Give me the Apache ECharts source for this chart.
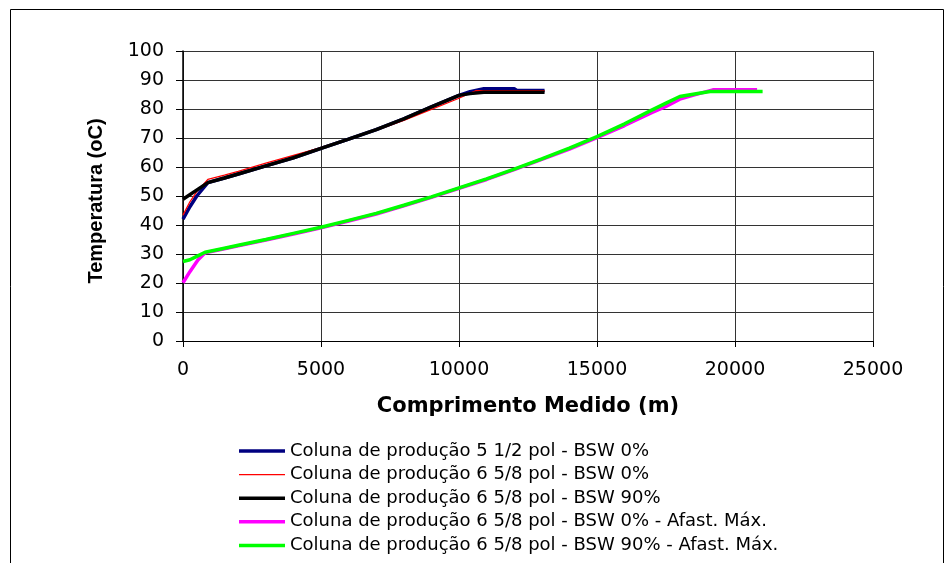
<!DOCTYPE html>
<html><head><meta charset="utf-8">
<script src="https://cdn.jsdelivr.net/npm/echarts@6/dist/echarts.min.js"></script>
<style>html,body{margin:0;padding:0;background:#fff}#c{width:949px;height:563px}</style>
</head><body><div id="c"></div>
<script>
// Series names (legend)
const seriesNames = [
  'Coluna de produção 5 1/2 pol - BSW 0%',
  'Coluna de produção 6 5/8 pol - BSW 0%',
  'Coluna de produção 6 5/8 pol - BSW 90%',
  'Coluna de produção 6 5/8 pol - BSW 0% - Afast. Máx.',
  'Coluna de produção 6 5/8 pol - BSW 90% - Afast. Máx.'
];
// Comprimento Medido (m) / Temperatura (oC)
const blueX  = [0, 250, 500, 900, 1500, 2000, 3000, 4000, 5000, 6000, 7000, 8000, 9000, 10000, 10400, 10900, 12000, 12100, 13100];
const blueY  = [42.0, 46.3, 50.0, 54.6, 56.2, 57.6, 60.4, 63.2, 66.4, 69.6, 72.9, 76.6, 80.7, 84.7, 86.0, 87.0, 87.0, 86.4, 86.4];
const redX   = [0, 250, 500, 900, 1500, 2000, 3000, 4000, 5000, 6000, 7000, 8000, 9000, 10000, 10600, 13100];
const redY   = [43.4, 48.0, 51.5, 55.7, 57.2, 58.5, 61.3, 64.0, 66.7, 69.7, 72.7, 76.1, 79.9, 83.7, 86.3, 86.3];
const blackX = [0, 900, 1500, 2000, 3000, 4000, 5000, 6000, 7000, 8000, 9000, 10000, 10400, 10900, 13100];
const blackY = [48.9, 54.6, 56.2, 57.6, 60.4, 63.2, 66.4, 69.6, 72.9, 76.6, 80.7, 84.7, 85.3, 85.8, 85.8];
const magX   = [0, 250, 540, 800, 1500, 2000, 3000, 4000, 5000, 6000, 7000, 8000, 9000, 10000, 11000, 12000, 13000, 14000, 15000, 16000, 17000, 17500, 18000, 18500, 19200, 20800];
const magY   = [20.1, 23.9, 27.9, 30.4, 31.8, 32.8, 34.8, 36.9, 39.0, 41.4, 43.8, 46.6, 49.5, 52.6, 55.7, 59.1, 62.6, 66.2, 70.1, 74.3, 78.8, 80.9, 83.4, 84.8, 86.6, 86.6];
const greenX = [0, 250, 500, 800, 1500, 2000, 3000, 4000, 5000, 6000, 7000, 8000, 9000, 10000, 11000, 12000, 13000, 14000, 15000, 16000, 17000, 17500, 18000, 18700, 19100, 21000];
const greenY = [27.4, 28.0, 29.2, 30.6, 32.0, 33.0, 35.0, 37.1, 39.2, 41.6, 44.0, 46.8, 49.7, 52.8, 55.9, 59.3, 62.8, 66.5, 70.5, 74.9, 79.7, 82.0, 84.3, 85.4, 86.0, 86.0];
// Axis ticks
const xTicks = [0, 5000, 10000, 15000, 20000, 25000];
const yTicks = [0, 10, 20, 30, 40, 50, 60, 70, 80, 90, 100];

const colors = ['#000080', '#ff0000', '#000000', '#ff00ff', '#00ff00'];
const widths = [3.5, 1.3, 3.5, 3.5, 3.5];
const legendIcons = [
  'path://M0,0 H460 V35 H0 Z',
  'path://M0,0 H460 V14 H0 Z',
  'path://M0,0 H460 V35 H0 Z',
  'path://M0,0 H460 V35 H0 Z',
  'path://M0,0 H460 V35 H0 Z'
];
const xs = [blueX, redX, blackX, magX, greenX];
const ys = [blueY, redY, blackY, magY, greenY];

const chart = echarts.init(document.getElementById('c'), null, {renderer: 'canvas'});
chart.setOption({
  animation: false,
  backgroundColor: '#fff',
  textStyle: {fontFamily: 'DejaVu Sans'},
  graphic: [{
    type: 'rect', left: 8, top: 7, silent: true,
    shape: {width: 933, height: 600},
    style: {fill: 'none', stroke: '#000', lineWidth: 1}
  }],
  grid: {left: 183, right: 76, top: 51, bottom: 222, containLabel: false},
  xAxis: {
    type: 'value', min: xTicks[0], max: xTicks[xTicks.length - 1], interval: 5000,
    name: 'Comprimento Medido (m)', nameLocation: 'middle', nameGap: 55,
    nameTextStyle: {fontFamily: 'DejaVu Sans', fontWeight: 'bold', fontSize: 21, color: '#000'},
    axisLine: {show: true, onZero: false, lineStyle: {color: '#000', width: 1}},
    axisTick: {show: true, length: 6, lineStyle: {color: '#000'}},
    axisLabel: {color: '#000', fontSize: 19, margin: 20, fontFamily: 'DejaVu Sans',
      formatter: v => String(v)},
    splitLine: {show: true, lineStyle: {color: '#333', width: 1}}
  },
  yAxis: {
    type: 'value', min: yTicks[0], max: yTicks[yTicks.length - 1], interval: 10,
    name: 'Temperatura (oC)', nameLocation: 'middle', nameGap: 77, nameRotate: 90,
    nameTextStyle: {fontFamily: 'Liberation Sans', fontWeight: 'bold', fontSize: 20, color: '#000',
      padding: [0, 10, 0, 0]},
    axisLine: {show: true, lineStyle: {color: '#000', width: 1.5}},
    axisTick: {show: true, length: 7, lineStyle: {color: '#000'}},
    axisLabel: {color: '#000', fontSize: 19, margin: 19, fontFamily: 'DejaVu Sans',
      formatter: v => String(v)},
    splitLine: {show: true, lineStyle: {color: '#333', width: 1}}
  },
  legend: {
    orient: 'vertical', left: 239, top: 442, padding: 0,
    itemWidth: 46, itemHeight: 14, itemGap: 5.6,
    textStyle: {fontFamily: 'DejaVu Sans', fontSize: 18, color: '#000', lineHeight: 18},
    data: seriesNames.map((n, i) => ({name: n, icon: legendIcons[i]}))
  },
  series: seriesNames.map((n, i) => ({
    name: n, type: 'line', symbol: 'none', smooth: false,
    data: xs[i].map((x, j) => [x, ys[i][j]]),
    lineStyle: {color: colors[i], width: widths[i]},
    itemStyle: {color: colors[i]},
    z: 2 + i
  }))
});
</script>
</body></html>
